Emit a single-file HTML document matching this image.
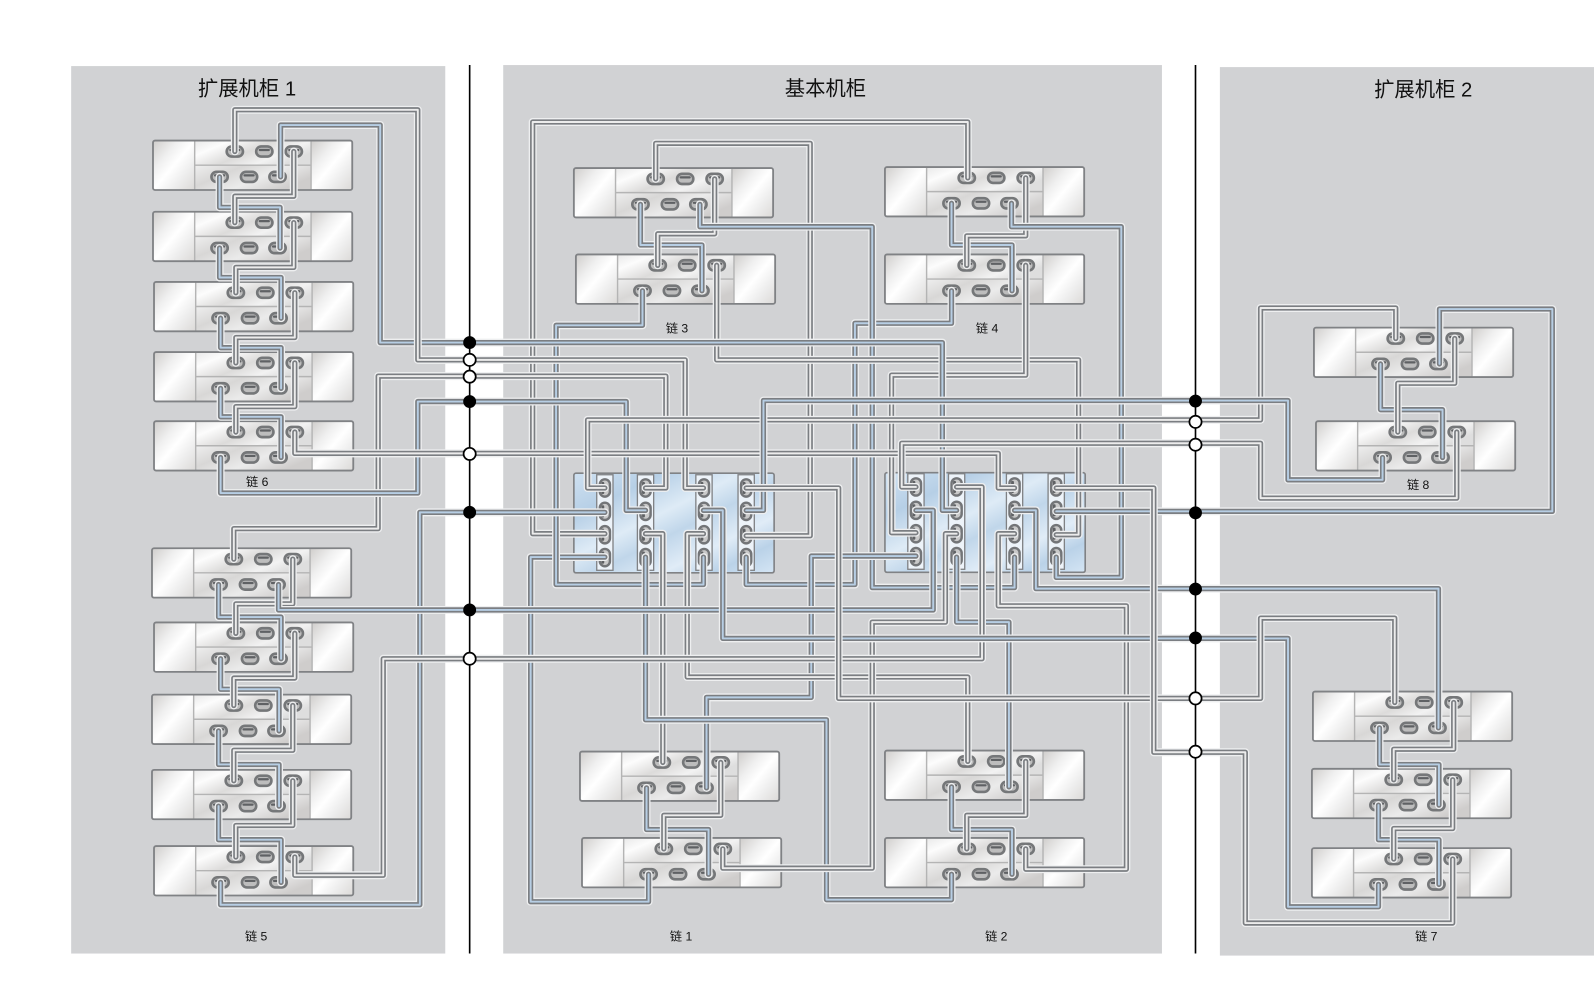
<!DOCTYPE html>
<html lang="zh">
<head>
<meta charset="utf-8">
<title>机柜布线图</title>
<style>
html,body{margin:0;padding:0;background:#fff}
svg{display:block;font-family:"Liberation Sans","Noto Sans CJK SC",sans-serif}
#wires path{fill:none;stroke:#7c7f83;stroke-width:4.8;stroke-linejoin:round;stroke-linecap:round}
#wires path.h{stroke:#eeeff0;stroke-width:7.8}
#wires path.d{stroke:#7b7e82;stroke-width:5.2}
#wires path.cb{stroke:#b7cee4;stroke-width:1.9}
#wires path.cw{stroke:#ececec;stroke-width:1.9}
.t{font-size:20px;text-anchor:middle;fill:#111}
.l{font-size:12px;text-anchor:middle;fill:#111}
.nb{fill:#000;stroke:#000;stroke-width:1.5}
.nw{fill:#fff;stroke:#000;stroke-width:1.7}
</style>
</head>
<body>
<svg width="1594" height="981" viewBox="0 0 1568 965" xmlns="http://www.w3.org/2000/svg">
<defs>
<linearGradient id="g1" x1="0" y1="0" x2="1" y2="1">
<stop offset="0" stop-color="#cfcdcb"/><stop offset=".3" stop-color="#efefef"/><stop offset=".5" stop-color="#ffffff"/><stop offset=".72" stop-color="#eeeeee"/><stop offset="1" stop-color="#dbd9d7"/>
</linearGradient>
<linearGradient id="g2" x1="0" y1="0" x2="1" y2=".5">
<stop offset="0" stop-color="#e8e8e8"/><stop offset=".25" stop-color="#fcfcfc"/><stop offset=".55" stop-color="#dcdbda"/><stop offset=".8" stop-color="#f2f2f2"/><stop offset="1" stop-color="#dedede"/>
</linearGradient>
<linearGradient id="g3" x1="0" y1="0" x2="1" y2=".5">
<stop offset="0" stop-color="#efefef"/><stop offset=".35" stop-color="#d8d7d6"/><stop offset=".65" stop-color="#ebebeb"/><stop offset="1" stop-color="#cfcdcc"/>
</linearGradient>
<linearGradient id="g4" x1="0" y1="0" x2="1" y2="1">
<stop offset="0" stop-color="#cfe1f1"/><stop offset=".22" stop-color="#b6cfe6"/><stop offset=".42" stop-color="#deebf6"/><stop offset=".55" stop-color="#c0d6ea"/><stop offset=".72" stop-color="#e0ecf7"/><stop offset=".85" stop-color="#bad2e8"/><stop offset="1" stop-color="#d4e5f4"/>
</linearGradient>
<g id="hp"><rect x="-8" y="-5" width="16" height="10" rx="5" fill="#bdbdbd" stroke="#757779" stroke-width="2.6"/><rect x="-5.5" y="-2.6" width="11" height="2.2" rx="1" fill="#5f6164"/></g>
<g id="vp"><rect x="-5" y="-8.5" width="10" height="17" rx="5" fill="#c9c9c9" stroke="#737578" stroke-width="2.4"/><rect x="-3.4" y="-6" width="2.8" height="12" rx="1.2" fill="#5f6164"/></g>
<g id="srv">
<rect x=".5" y=".3" width="196" height="48.6" rx="2" fill="#f4f4f4"/>
<rect x=".5" y=".3" width="41" height="48.6" fill="url(#g1)"/>
<rect x="156" y=".3" width="40.5" height="48.6" fill="url(#g1)"/>
<rect x="41" y=".3" width="115" height="24.5" fill="url(#g2)"/>
<rect x="41" y="24.5" width="115" height="24.4" fill="url(#g3)"/>
<path d="M41.5 0V49M156 0V49M41.5 24.5H156" stroke="#b4b4b4" stroke-width="1.4" fill="none"/>
<rect x=".5" y=".3" width="196" height="48.6" rx="2" fill="none" stroke="#808285" stroke-width="1.8"/>
<use href="#hp" x="81" y="11"/><use href="#hp" x="110" y="11"/><use href="#hp" x="139" y="11"/>
<use href="#hp" x="66" y="36"/><use href="#hp" x="95" y="36"/><use href="#hp" x="123" y="36"/>
</g>
<g id="col">
<rect x="-8" y="-13" width="16" height="94" fill="#edf3f9" stroke="#808285" stroke-width="1.3"/>
<use href="#vp" x="0" y="0"/><use href="#vp" x="0" y="23"/><use href="#vp" x="0" y="46"/><use href="#vp" x="0" y="68.5"/>
</g>
</defs>

<rect x="70" y="65" width="368" height="873" fill="#d1d2d4"/>
<rect x="495" y="64" width="648" height="874" fill="#d1d2d4"/>
<rect x="1200" y="66" width="368" height="874" fill="#d1d2d4"/>

<text class="t" x="243" y="94">扩展机柜 1</text>
<text class="t" x="812" y="94">基本机柜</text>
<text class="t" x="1400" y="95">扩展机柜 2</text>

<use href="#srv" x="150" y="138"/>
<use href="#srv" x="150" y="208"/>
<use href="#srv" x="151" y="277"/>
<use href="#srv" x="151" y="346"/>
<use href="#srv" x="151" y="414"/>
<use href="#srv" x="149" y="539"/>
<use href="#srv" x="151" y="612"/>
<use href="#srv" x="149" y="683"/>
<use href="#srv" x="149" y="757"/>
<use href="#srv" x="151" y="832"/>
<use href="#srv" x="564" y="165"/>
<use href="#srv" x="566" y="250"/>
<use href="#srv" x="870" y="164"/>
<use href="#srv" x="870" y="250"/>
<use href="#srv" x="570" y="739"/>
<use href="#srv" x="572" y="824"/>
<use href="#srv" x="870" y="738"/>
<use href="#srv" x="870" y="824"/>
<use href="#srv" x="1292" y="322"/>
<use href="#srv" x="1294" y="414"/>
<use href="#srv" x="1291" y="680"/>
<use href="#srv" x="1290" y="756"/>
<use href="#srv" x="1290" y="834"/>

<rect x="564.5" y="465.5" width="197" height="98" rx="2" fill="url(#g4)" stroke="#808285" stroke-width="1.6"/>
<rect x="870.5" y="465" width="197" height="98" rx="2" fill="url(#g4)" stroke="#808285" stroke-width="1.6"/>
<use href="#col" x="595" y="480"/>
<use href="#col" x="635" y="480"/>
<use href="#col" x="692.5" y="480"/>
<use href="#col" x="734" y="480"/>
<use href="#col" x="901" y="479"/>
<use href="#col" x="941" y="479"/>
<use href="#col" x="998" y="479"/>
<use href="#col" x="1039" y="479"/>

<g id="wires">
<!-- left stack chains -->
<path class="b" d="M216 174V204H275.500V244"/>
<path class="w" d="M289 149V193H231V219"/>
<path class="b" d="M216 244V273H276.500V313"/>
<path class="w" d="M289 219V263H232V288"/>
<path class="b" d="M217 313V342H276.500V382"/>
<path class="w" d="M290 288V332H232V357"/>
<path class="b" d="M217 382V410H276.500V450"/>
<path class="w" d="M290 357V400H232V425"/>
<path class="b" d="M215 575V607H276.500V648"/>
<path class="w" d="M288 550V594H232V623"/>
<path class="b" d="M217 648V678H274.500V719"/>
<path class="w" d="M290 623V667H230V694"/>
<path class="b" d="M215 719V752H274.500V793"/>
<path class="w" d="M288 694V738H230V768"/>
<path class="b" d="M215 793V826H276.500V868"/>
<path class="w" d="M288 768V812H232V843"/>
<!-- centre chains -->
<path class="b" d="M630 201V241H690.500V286"/>
<path class="w" d="M703 176V230H647V261"/>
<path class="b" d="M936 200V241H995.500V286"/>
<path class="w" d="M1009 175V232H951V261"/>
<path class="b" d="M636 775V816H697V860"/>
<path class="w" d="M709 750V802H653V835"/>
<path class="b" d="M936 774V816H995.500V860"/>
<path class="w" d="M1009 749V802H951V835"/>
<!-- right chains -->
<path class="b" d="M1358 358V403H1419V450"/>
<path class="w" d="M1431 333V377H1375V425"/>
<path class="b" d="M1357 716V752H1415.500V792"/>
<path class="w" d="M1430 691V737H1371V767"/>
<path class="b" d="M1356 792V826H1415.500V870"/>
<path class="w" d="M1429 767V815H1371V845"/>
<!-- long verticals and centre routes -->
<path class="w" d="M645 176V141H797V527H734"/>
<path class="w" d="M595 525H524V120H952V175"/>
<path class="b" d="M595 548H522V887H638V860"/>
<path class="b" d="M632 286V320H547V575H692V548"/>
<path class="b" d="M936 286V318H841V575H734V548"/>
<path class="b" d="M688.500 201V223H858V578H998V548"/>
<path class="b" d="M995 200V223H1103V568H1039V548"/>
<path class="w" d="M705 261V354H1061V526H1039"/>
<path class="w" d="M1009 261V369H877V524H901"/>
<path class="w" d="M635 525H652V750"/>
<path class="b" d="M901 547H798V686H695V775"/>
<path class="b" d="M635 548V708H813V885H936V860"/>
<path class="w" d="M692 525H676V666H952V749"/>
<path class="b" d="M941 548V612H992.500V774"/>
<path class="w" d="M941 525H930V612H858V854H711V835"/>
<path class="w" d="M998 525H982V596H1108V855H1009V835"/>
<!-- through the node lines -->
<path class="b" d="M276 174V123H374V337H927V502H941"/>
<path class="w" d="M231 149V108H411V354H674V480H692"/>
<path class="w" d="M230 550V520H372V370H655V480H635"/>
<path class="b" d="M217 450V485H411V395H616V502H635"/>
<path class="w" d="M290 425V446H982V480H998"/>
<path class="b" d="M217 868V890H413V504H595"/>
<path class="b" d="M901 502H918V600H274V575"/>
<path class="w" d="M941 479H966V648H377V861H290V843"/>
<path class="w" d="M901 479H887V436H1240V490H1433V425"/>
<path class="w" d="M595 480H578V413H1240V303H1373V333"/>
<path class="b" d="M734 502H751V394H1267V472H1360V450"/>
<path class="b" d="M1039 503H1527V304H1416V358"/>
<path class="b" d="M998 502H1019V579H1415V716"/>
<path class="b" d="M692 502H711V628H1267V892H1356V870"/>
<path class="w" d="M734 480H825V687H1240V608H1372V691"/>
<path class="w" d="M1039 480H1135V740H1225V908H1429V845"/>
</g>

<path d="M462 64V938M1176 64V938" stroke="#000" stroke-width="1.6" fill="none"/>

<circle class="nb" cx="462" cy="337" r="5.6"/>
<circle class="nw" cx="462" cy="354" r="6"/>
<circle class="nw" cx="462" cy="370.5" r="6"/>
<circle class="nb" cx="462" cy="395" r="5.6"/>
<circle class="nw" cx="462" cy="446.5" r="6"/>
<circle class="nb" cx="462" cy="504" r="5.6"/>
<circle class="nb" cx="462" cy="600" r="5.6"/>
<circle class="nw" cx="462" cy="648" r="6"/>
<circle class="nb" cx="1176" cy="394.5" r="5.6"/>
<circle class="nw" cx="1176" cy="415" r="6"/>
<circle class="nw" cx="1176" cy="437.5" r="6"/>
<circle class="nb" cx="1176" cy="504.5" r="5.6"/>
<circle class="nb" cx="1176" cy="579.5" r="5.6"/>
<circle class="nb" cx="1176" cy="627.5" r="5.6"/>
<circle class="nw" cx="1176" cy="687" r="6"/>
<circle class="nw" cx="1176" cy="739.5" r="6"/>

<text class="l" x="253" y="478">链 6</text>
<text class="l" x="252" y="925">链 5</text>
<text class="l" x="666" y="327">链 3</text>
<text class="l" x="971" y="327">链 4</text>
<text class="l" x="670" y="925">链 1</text>
<text class="l" x="980" y="925">链 2</text>
<text class="l" x="1395" y="481">链 8</text>
<text class="l" x="1403" y="925">链 7</text>
</svg>
<script>
document.querySelectorAll('#wires path').forEach(function(p){
  var k=p.getAttribute('class');
  var h=p.cloneNode(),d=p.cloneNode();
  h.setAttribute('class','h');d.setAttribute('class','d');
  p.parentNode.insertBefore(h,p);p.parentNode.insertBefore(d,p);
  p.setAttribute('class',k==='b'?'cb':'cw');
});
</script>
</body>
</html>
